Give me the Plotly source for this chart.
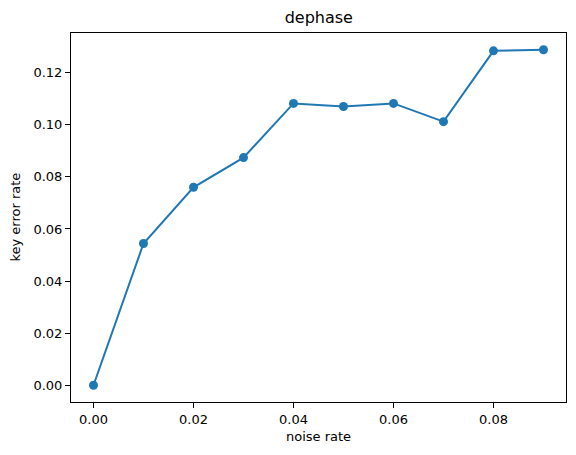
import plotly.graph_objects as go

# noise rate vs key error rate (dephase channel)
noise_rate = [0.00, 0.01, 0.02, 0.03, 0.04, 0.05, 0.06, 0.07, 0.08, 0.09]
key_error_rate = [0.0, 0.0544, 0.0760, 0.0874, 0.1082, 0.1070, 0.1082, 0.1012, 0.1284, 0.1288]

x_ticks = [0.00, 0.02, 0.04, 0.06, 0.08]
y_ticks = [0.00, 0.02, 0.04, 0.06, 0.08, 0.10, 0.12]

fig = go.Figure()

fig.add_trace(go.Scatter(
    x=noise_rate,
    y=key_error_rate,
    mode='lines+markers',
    line=dict(color='#1f77b4', width=2),
    marker=dict(size=9, color='#1f77b4'),
    showlegend=False,
))

axis_style = dict(
    showgrid=False,
    zeroline=False,
    showline=True,
    linecolor='black',
    linewidth=1,
    mirror=True,
    ticks='outside',
    ticklen=5,
    tickwidth=1,
    tickcolor='black',
    tickfont=dict(size=13, color='black'),
    automargin=False,
)

# the page body adds an 8px margin, so the figure is sized 8px smaller each way
fig.update_layout(
    width=560,
    height=439,
    margin=dict(l=63, r=2, t=25, b=45),
    plot_bgcolor='white',
    paper_bgcolor='white',
    font=dict(family='DejaVu Sans', color='black'),
    title=dict(text='dephase', x=0.555, xanchor='center', y=0.9795, yanchor='middle',
               font=dict(size=16, color='black'), automargin=False),
    xaxis=dict(axis_style, range=[-0.0045, 0.0945], tickvals=x_ticks,
               ticktext=[f'{v:.2f}' for v in x_ticks],
               title=dict(text='noise rate', font=dict(size=13), standoff=6)),
    yaxis=dict(axis_style, range=[-0.00644, 0.13524], tickvals=y_ticks,
               ticktext=[f'{v:.2f}' for v in y_ticks]),
)

# y axis title placed by hand to sit as close to the ticks as matplotlib does
fig.add_annotation(
    text='key error rate', textangle=-90,
    xref='paper', yref='paper', x=-0.113, y=0.5,
    xanchor='center', yanchor='middle', showarrow=False,
    font=dict(size=13, color='black'),
)

fig.write_html("out.html")
